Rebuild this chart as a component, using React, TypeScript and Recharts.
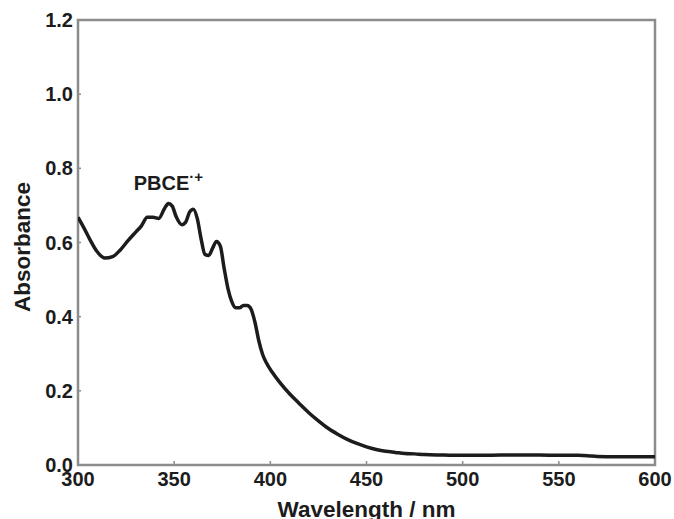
import React from 'react';
import { LineChart, Line, XAxis, YAxis, ReferenceArea, ReferenceDot } from 'recharts';

// Absorption spectrum of the radical cation PBCE·+
const wavelengths = [
  300, 303, 306, 310, 314, 318, 322, 326, 330, 333, 336, 339, 342, 345, 347, 349,
  351, 354, 356, 358, 360, 362, 364, 366, 368, 370, 372, 374, 376, 378, 380, 382,
  384, 386, 388, 390, 392, 394, 396, 398, 401, 405, 410, 415, 420, 425, 430, 435,
  440, 445, 450, 455, 460, 465, 470, 475, 480, 490, 500, 510, 520, 530, 540, 550,
  560, 565, 570, 580, 590, 600,
];
const absorbance = [
  0.668, 0.640, 0.610, 0.575, 0.558, 0.562, 0.580, 0.605, 0.628, 0.645, 0.668, 0.668,
  0.665, 0.692, 0.705, 0.698, 0.670, 0.648, 0.655, 0.682, 0.690, 0.665, 0.610, 0.568,
  0.565, 0.585, 0.603, 0.590, 0.530, 0.475, 0.440, 0.424, 0.424, 0.430, 0.430, 0.420,
  0.385, 0.335, 0.298, 0.275, 0.250, 0.222, 0.192, 0.166, 0.141, 0.119, 0.099, 0.083,
  0.069, 0.058, 0.049, 0.042, 0.037, 0.034, 0.031, 0.030, 0.028, 0.027, 0.026, 0.026,
  0.027, 0.027, 0.027, 0.026, 0.026, 0.025, 0.023, 0.022, 0.022, 0.022,
];
const xTicks = [300, 350, 400, 450, 500, 550, 600];
const yTicks = [0, 0.2, 0.4, 0.6, 0.8, 1.0, 1.2];
const speciesLabel = 'PBCE';
const speciesCharge = '·+';
const labelPosition = { w: 347, a: 0.742 };

const data = wavelengths.map((w, i) => ({ w, a: absorbance[i] }));

const FONT = '"Liberation Sans", Arial, Helvetica, sans-serif';
const AXIS = '#8c8c8c';
const INK = '#1c1c1c';
const FS = 20;
const TITLE_FS = 22.5;

function XTick(props: any) {
  const { x, y, payload } = props;
  return (
    <g>
      <line x1={x} x2={x} y1={y} y2={y - 4} stroke={AXIS} strokeWidth={1.5} />
      <text x={x} y={y + 21} textAnchor="middle" fontFamily={FONT} fontWeight="bold" fontSize={FS} fill={INK}>
        {payload.value}
      </text>
    </g>
  );
}

function YTick(props: any) {
  const { x, y, payload } = props;
  return (
    <g>
      <line x1={x} x2={x + 3} y1={y} y2={y} stroke={AXIS} strokeWidth={1.5} />
      <text x={x - 5} y={y + 7} textAnchor="end" fontFamily={FONT} fontWeight="bold" fontSize={FS} fill={INK}>
        {Number(payload.value).toFixed(1)}
      </text>
    </g>
  );
}

export default function App() {
  return (
    <div style={{ position: 'absolute', left: 0, top: 0, background: '#fff' }}>
      <LineChart width={674} height={519} data={data} margin={{ top: 20, right: 19, bottom: 0, left: 0 }}>
        <XAxis
          dataKey="w"
          type="number"
          domain={[300, 600]}
          ticks={xTicks}
          allowDataOverflow
          axisLine={false}
          tickLine={false}
          tickSize={0}
          tickMargin={0}
          height={54}
          tick={<XTick />}
          interval={0}
          label={{
            value: 'Wavelength / nm',
            position: 'insideBottom',
            offset: 2,
            fontFamily: FONT,
            fontWeight: 'bold',
            fontSize: TITLE_FS,
            fill: INK,
          }}
        />
        <YAxis
          type="number"
          domain={[0, 1.2]}
          ticks={yTicks}
          allowDataOverflow
          axisLine={false}
          tickLine={false}
          tickSize={0}
          tickMargin={0}
          width={78}
          tick={<YTick />}
          interval={0}
          label={{
            content: () => (
              <text
                x={30}
                y={247}
                transform="rotate(-90 30 247)"
                textAnchor="middle"
                fontFamily={FONT}
                fontWeight="bold"
                fontSize={TITLE_FS}
                fill={INK}
              >
                Absorbance
              </text>
            ),
          }}
        />
        <ReferenceArea x1={300} x2={600} y1={0} y2={1.2} fill="none" stroke={AXIS} strokeWidth={2.5} />
        <Line
          type="monotone"
          dataKey="a"
          stroke={INK}
          strokeWidth={3.5}
          dot={false}
          activeDot={false}
          isAnimationActive={false}
        />
        <ReferenceDot
          x={labelPosition.w}
          y={labelPosition.a}
          r={0}
          fill="none"
          stroke="none"
          label={{
            content: (p: any) => {
              const cx = p.viewBox ? p.viewBox.x + (p.viewBox.width || 0) / 2 : 0;
              const cy = p.viewBox ? p.viewBox.y + (p.viewBox.height || 0) / 2 : 0;
              return (
                <text x={cx} y={cy} textAnchor="middle" fontFamily={FONT} fontWeight="bold" fontSize={FS} fill={INK}>
                  {speciesLabel}
                  <tspan fontSize={15} dy={-8}>{speciesCharge}</tspan>
                </text>
              );
            },
          }}
        />
      </LineChart>
    </div>
  );
}
